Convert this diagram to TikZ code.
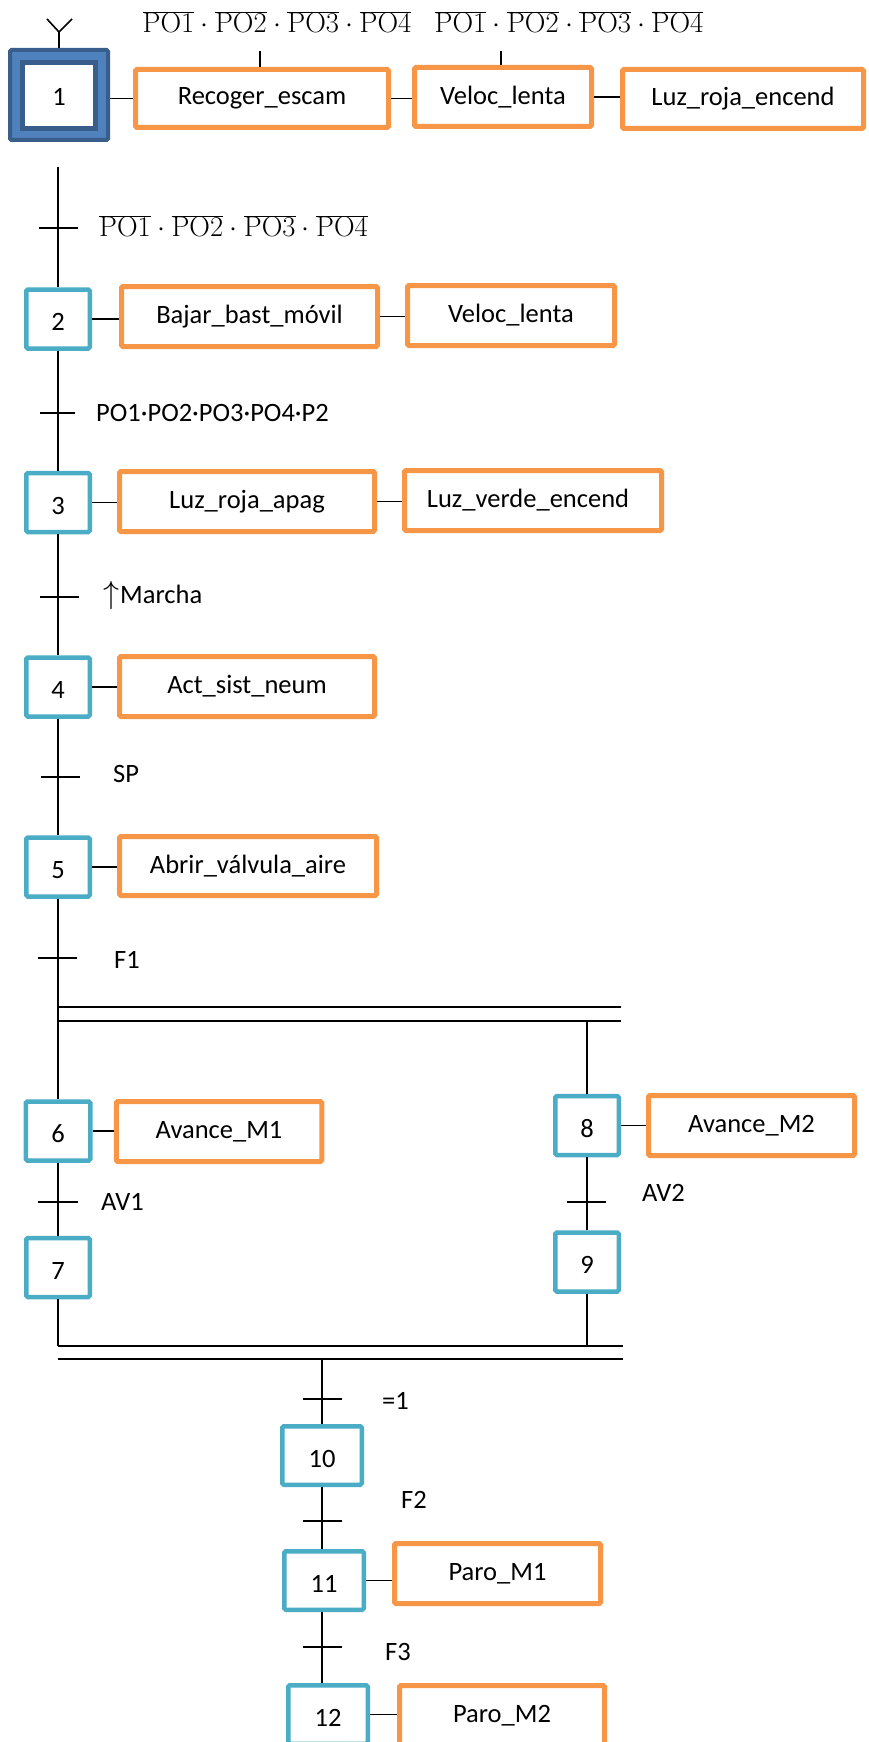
\RequirePackage{fix-cm}
\documentclass[tikz,border=0pt]{standalone}
\usepackage[no-math]{fontspec}
\setmainfont{Carlito}
\definecolor{stepc}{HTML}{4BACC6}
\definecolor{actc}{HTML}{F79646}
\definecolor{dblue}{HTML}{3A5E8C}
\definecolor{lblue}{HTML}{4F81BD}
\newcommand\fs{\fontsize{26.5}{30}\selectfont}
\newcommand\fm{\fontsize{28.6}{32}\selectfont}
\newcommand\nPO[1]{\overline{\mathrm{PO#1}}}
\newcommand\upar{{\fontsize{32}{32}\selectfont$\uparrow$}}
\tikzset{
  stepbox/.style={draw=stepc, line width=4.5pt, fill=white, inner sep=0pt, font=\fs,
    rounded corners=1.5pt, minimum width=63.5pt, minimum height=59pt,
    text height=23.5pt, text depth=0pt},
  bigstep/.style={stepbox, minimum width=79.5pt, minimum height=58.5pt},
  actbox/.style={draw=actc, line width=5pt, fill=white, inner sep=0pt, font=\fs,
    rounded corners=1.5pt, minimum height=60pt},
  wire/.style={line width=1.6pt, black},
  lab/.style={anchor=west, inner sep=0pt, font=\fs},
}
\begin{document}
\begin{tikzpicture}[x=1pt,y=-1pt]
\useasboundingbox (0,0) rectangle (868,1742);

% ---- step 1 (initial)
\node[draw=dblue, fill=lblue, line width=4pt, rounded corners=1.5pt, inner sep=0pt,
      minimum width=98pt, minimum height=90pt] (s1) at (59,95) {};
\node[draw=dblue, fill=white, line width=5pt, inner sep=0pt, font=\fs,
      minimum width=73pt, minimum height=66pt, text height=21pt, text depth=0pt] (s1i) at (59,95.5) {1};
\coordinate (y1) at (47,19);
\coordinate (y2) at (72,19);
\coordinate (y0) at (59,32);
\draw[wire] (y1) -- (y0) -- (y2);
\draw[wire] (y0) -- (s1.north);

% ---- actions of step 1
\node[actbox, minimum width=253pt, minimum height=58pt] (a1a) at (262,98.5) {Recoger\_escam};
\node[actbox, minimum width=177pt, minimum height=59pt] (a1b) at (503,97) {Veloc\_lenta};
\node[actbox, minimum width=241pt, minimum height=59pt] (a1c) at (743,99) {Luz\_roja\_encend};
\draw[wire] (a1a.west -| s1.east) -- (a1a.west);
\draw[wire] (a1a.east) -- (a1a.east -| a1b.west);
\draw[wire] (a1b.east) -- (a1b.east -| a1c.west);
\node[font=\fm, inner sep=0pt] (fa) at (277,22) {$\nPO1\cdot\nPO2\cdot\nPO3\cdot\nPO4$};
\node[font=\fm, inner sep=0pt] (fb) at (569,22) {$\nPO1\cdot\nPO2\cdot\nPO3\cdot\nPO4$};
\coordinate (fat) at (260,51);
\coordinate (fbt) at (501,51);
\draw[wire] (fat) -- (fat |- a1a.north);
\draw[wire] (fbt) -- (fbt |- a1b.north);

% ---- main column steps
\node[stepbox] (s2) at (58,319) {2};
\node[stepbox] (s3) at (58,502.5) {3};
\node[stepbox] (s4) at (58,687) {4};
\node[stepbox] (s5) at (58,867) {5};
\node[stepbox, minimum width=64.5pt] (s6) at (58,1131) {6};
\node[stepbox] (s7) at (58,1267.5) {7};
\node[stepbox] (s8) at (587,1125.5) {8};
\node[stepbox] (s9) at (587,1262) {9};
\node[bigstep] (s10) at (322,1455.5) {10};
\node[bigstep] (s11) at (324,1580.5) {11};
\node[bigstep] (s12) at (328,1714.5) {12};

% ---- actions
\node[actbox, minimum width=256pt] (a2a) at (249.5,316.5) {Bajar\_bast\_móvil};
\node[actbox, minimum width=207pt] (a2b) at (511,315.5) {Veloc\_lenta};
\node[actbox, minimum width=255pt] (a3a) at (247,501.5) {Luz\_roja\_apag};
\node[actbox, minimum width=257pt] (a3b) at (533,500.5) {\hspace*{-10pt}Luz\_verde\_encend};
\node[actbox, minimum width=255pt] (a4) at (247,686.5) {Act\_sist\_neum};
\node[actbox, minimum width=257pt, minimum height=59pt] (a5) at (248,866) {Abrir\_válvula\_aire};
\node[actbox, minimum width=205.5pt] (a6) at (219,1131.5) {Avance\_M1};
\node[actbox, minimum width=206pt] (a8) at (751.5,1125.5) {Avance\_M2};
\node[actbox, minimum width=206pt] (a11) at (497.5,1573.5) {Paro\_M1};
\node[actbox, minimum width=205pt] (a12) at (502,1715.5) {Paro\_M2};

\draw[wire] (s2.east) -- (s2.east -| a2a.west);
\draw[wire] (a2a.east) -- (a2a.east -| a2b.west);
\draw[wire] (s3.east) -- (s3.east -| a3a.west);
\draw[wire] (a3a.east) -- (a3a.east -| a3b.west);
\draw[wire] (s4.east) -- (s4.east -| a4.west);
\draw[wire] (s5.east) -- (s5.east -| a5.west);
\draw[wire] (s6.east) -- (s6.east -| a6.west);
\draw[wire] (s8.east) -- (s8.east -| a8.west);
\draw[wire] (s11.east) -- (s11.east -| a11.west);
\draw[wire] (s12.east) -- (s12.east -| a12.west);

% ---- vertical links
\coordinate (t0) at (58,167);
\draw[wire] (t0) -- (s2.north);
\draw[wire] (s2.south) -- (s3.north);
\draw[wire] (s3.south) -- (s4.north);
\draw[wire] (s4.south) -- (s5.north);
\draw[wire] (s5.south) -- (s6.north);
\draw[wire] (s6.south) -- (s7.north);
\draw[wire] (s8.south) -- (s9.north);
\coordinate (b1r) at (587,1021);
\draw[wire] (b1r) -- (s8.north);
\coordinate (b2l) at (58,1346);
\draw[wire] (s7.south) -- (b2l);
\draw[wire] (s9.south) -- (s9.south |- b2l);
\coordinate (b2c) at (322,1359);
\draw[wire] (b2c) -- (s10.north);
\draw[wire] (s10.south) -- (s10.south |- s11.north);
\draw[wire] (s10.south |- s11.south) -- (s10.south |- s12.north);

% ---- parallel bars
\draw[wire] (58,1007) -- (621,1007);
\draw[wire] (58,1021) -- (621,1021);
\draw[line width=2.2pt] (58,1346) -- (623,1346);
\draw[wire] (58,1359) -- (623,1359);

% ---- transitions
\draw[wire] (39,228) -- (78,228);
\draw[wire] (40,413) -- (75,413);
\draw[wire] (40,597) -- (79,597);
\draw[wire] (41,777) -- (80,777);
\draw[wire] (38,958) -- (77,958);
\draw[wire] (38,1202) -- (78,1202);
\draw[wire] (567,1202) -- (606,1202);
\draw[wire] (303,1399) -- (342,1399);
\draw[wire] (303,1521) -- (342,1521);
\draw[wire] (303,1647) -- (342,1647);

% ---- transition labels
\node[lab, font=\fm] (c1) at (99,226) {$\nPO1\cdot\nPO2\cdot\nPO3\cdot\nPO4$};
\node[lab] (c2) at (96,413) {PO1·PO2·PO3·PO4·P2};
\node[lab] (c3) at (103,595) {\upar\hspace{1pt}Marcha};
\node[lab] (c4) at (113,774) {SP};
\node[lab] (c5) at (114,960) {F1};
\node[lab] (c6) at (101,1202) {AV1};
\node[lab] (c7) at (642,1193) {AV2};
\node[lab] (c8) at (382,1401) {=1};
\node[lab] (c9) at (401,1500) {F2};
\node[lab] (c10) at (385,1652) {F3};
\end{tikzpicture}
\end{document}
